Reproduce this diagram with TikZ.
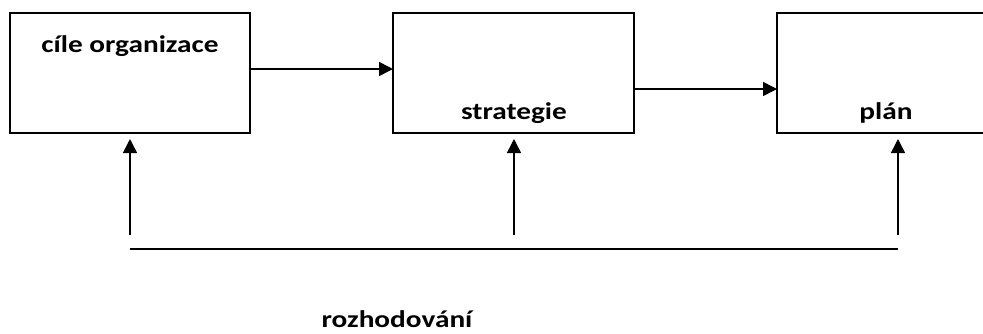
\documentclass[tikz,border=0pt]{standalone}
\usepackage{fontspec}
\setmainfont[FakeStretch=1.22]{Carlito}
\usetikzlibrary{arrows.meta}
\begin{document}
\begin{tikzpicture}[x=1pt,y=-1pt,
  box/.style={draw, line width=1.5pt, inner sep=0pt, outer sep=0pt},
  lbl/.style={font=\fontsize{24pt}{28pt}\selectfont\bfseries, inner sep=0pt, anchor=base},
  arr/.style={line width=1.6pt, -{Triangle[length=14pt,width=14pt]}}]
\useasboundingbox (0,0) rectangle (983,333);
\clip (0,0) rectangle (983,333);
\fill[white] (0,0) rectangle (983,333);
\node[box, minimum width=240pt, minimum height=120pt] (b1) at (130,73) {};
\node[box, minimum width=241pt, minimum height=120pt] (b2) at (513.5,73) {};
\node[box, minimum width=273pt, minimum height=120pt] (b3) at (913.5,73) {};
\node[lbl] (t1) at (130,52) {cíle organizace};
\node[lbl] (t2) at (514,119) {strategie};
\node[lbl] (t3) at (886,119) {plán};
\node[lbl] (t4) at (397,327) {rozhodování};
\draw[arr] ([yshift=4pt]b1.east) -- ([yshift=4pt]b1.east -| b2.west);
\draw[arr] ([yshift=-16pt]b2.east) -- ([yshift=-16pt]b2.east -| b3.west);
\coordinate (c1) at (130,235);
\coordinate (c2) at (514,235);
\coordinate (c3) at (898,235);
\coordinate (h1) at (130,249);
\coordinate (h2) at (898,249);
\draw[arr] (c1) -- ([yshift=-6pt]c1 |- b1.south);
\draw[arr] (c2) -- ([yshift=-6pt]c2 |- b2.south);
\draw[arr] (c3) -- ([yshift=-6pt]c3 |- b3.south);
\draw[line width=2pt] (h1) -- (h2);
\end{tikzpicture}
\end{document}
